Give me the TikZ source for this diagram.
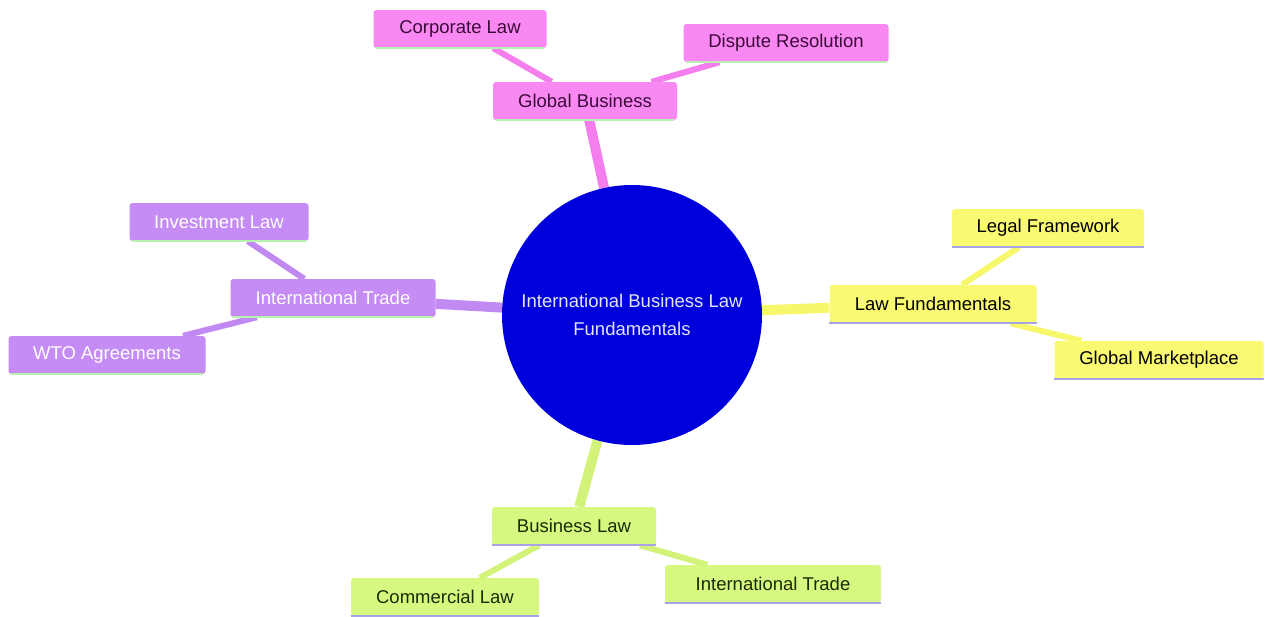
\documentclass[tikz,border=0pt]{standalone}
\usepackage{fontspec}
\setmainfont{Liberation Sans}
\usetikzlibrary{backgrounds}
\definecolor{pinkF}{HTML}{F988F2}
\definecolor{pinkE}{HTML}{F47EEE}
\definecolor{pinkT}{HTML}{3A0A38}
\definecolor{purpF}{HTML}{C48CF4}
\definecolor{purpE}{HTML}{C08AF2}
\definecolor{yelF}{HTML}{FAF972}
\definecolor{yelE}{HTML}{F7F76C}
\definecolor{grnF}{HTML}{D7F880}
\definecolor{grnE}{HTML}{D2F27A}
\definecolor{grnT}{HTML}{1C2A05}
\definecolor{lavL}{HTML}{A9A2E6}
\definecolor{mintL}{HTML}{B8F0B0}
\definecolor{rootF}{HTML}{0000DD}
\definecolor{rootT}{HTML}{E4E4F4}
\tikzset{
  x=1pt, y=-1pt,
  every node/.style={font=\fontsize{18.5}{28}\selectfont},
  box/.style={rectangle, rounded corners=3pt, inner sep=0pt, minimum height=38},
  pinkbox/.style={box, fill=pinkF, text=pinkT},
  purpbox/.style={box, fill=purpF, text=white},
  yelbox/.style={box, fill=yelF, text=black},
  grnbox/.style={box, fill=grnF, text=grnT},
  mainedge/.style={line width=10},
  subedge/.style={line width=6},
  underline/.style={line width=2.5}
}
\begin{document}
\begin{tikzpicture}
\useasboundingbox (0,0) rectangle (1264,616);
% root
\node[circle, fill=rootF, text=rootT, minimum size=260, inner sep=0pt, align=center] (root) at (632,315) {International Business Law\\Fundamentals};
% pink branch
\node[pinkbox, minimum width=184] (gb) at (585,101) {Global Business};
\node[pinkbox, minimum width=173] (cl) at (460,29) {Corporate Law};
\node[pinkbox, minimum width=205] (dr) at (786,43) {Dispute Resolution};
% purple branch
\node[purpbox, minimum width=205] (it) at (333,298) {International Trade};
\node[purpbox, minimum width=179] (il) at (219,222) {Investment Law};
\node[purpbox, minimum width=197] (wto) at (107,355) {WTO Agreements};
% yellow branch
\node[yelbox, minimum width=207] (lf) at (933,304) {Law Fundamentals};
\node[yelbox, minimum width=192] (lfw) at (1048,228) {Legal Framework};
\node[yelbox, minimum width=209] (gm) at (1159,360) {Global Marketplace};
% green branch
\node[grnbox, minimum width=164] (bl) at (574,526) {Business Law};
\node[grnbox, minimum width=188] (cml) at (445,597) {Commercial Law};
\node[grnbox, minimum width=216] (it2) at (773,584) {International Trade};
% underlines
\foreach \n in {gb,cl,dr,it,il,wto}
  \draw[underline, mintL] ([xshift=3pt]\n.south west) -- ([xshift=-3pt]\n.south east);
\foreach \n in {lf,lfw,gm,bl,cml,it2}
  \draw[underline, lavL] (\n.south west) -- (\n.south east);
\begin{pgfonlayer}{background}
\draw[mainedge, pinkE] (root) -- (gb);
\draw[subedge, pinkE] (gb) -- (cl);
\draw[subedge, pinkE] (gb) -- (dr);
\draw[mainedge, purpE] (root) -- (it);
\draw[subedge, purpE] (it) -- (il);
\draw[subedge, purpE] (it) -- (wto);
\draw[mainedge, yelE] (root) -- (lf);
\draw[subedge, yelE] (lf) -- (lfw);
\draw[subedge, yelE] (lf) -- (gm);
\draw[mainedge, grnE] (root) -- (bl);
\draw[subedge, grnE] (bl) -- (cml);
\draw[subedge, grnE] (bl) -- (it2);
\end{pgfonlayer}
\end{tikzpicture}
\end{document}
